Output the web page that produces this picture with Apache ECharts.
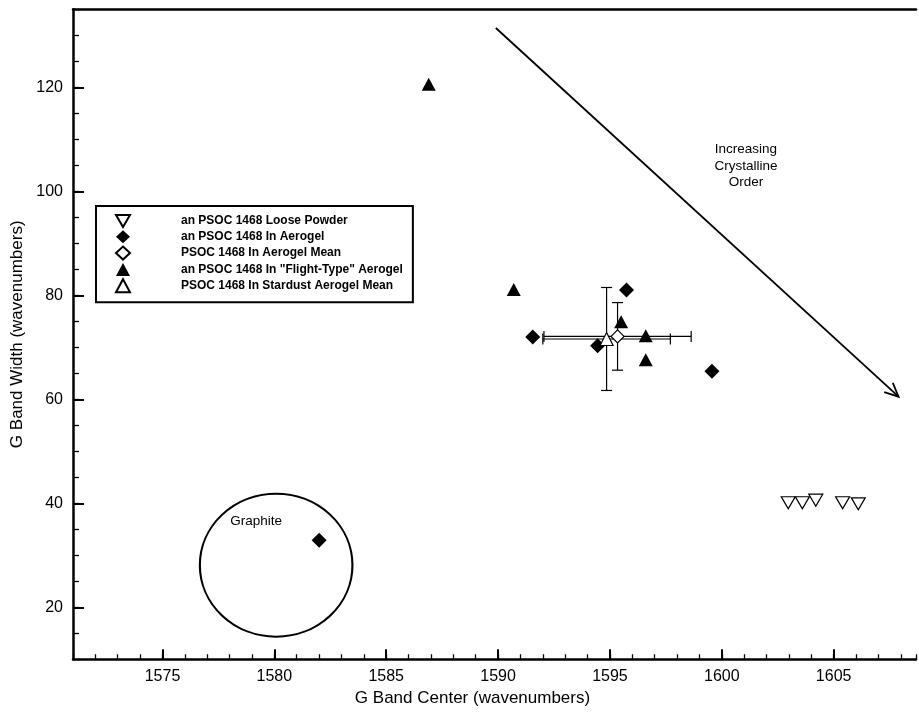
<!DOCTYPE html>
<html><head><meta charset="utf-8">
<script src="https://cdn.jsdelivr.net/npm/echarts@6/dist/echarts.min.js"></script>
<style>html,body{margin:0;padding:0;background:#fff}#c{width:919px;height:713px}</style>
</head><body><div id="c"></div>
<script>
// ---- data ----
const seriesNames = [
  'an PSOC 1468 Loose Powder',
  'an PSOC 1468 In Aerogel',
  'PSOC 1468 In Aerogel Mean',
  'an PSOC 1468 In "Flight-Type" Aerogel',
  'PSOC 1468 In Stardust Aerogel Mean'
];
const loosePowder = [[1602.97,40.1],[1603.6,40.1],[1604.2,40.6],[1605.4,40.1],[1606.1,39.9]];
const inAerogel = [[1582.0,32.9],[1591.55,72.0],[1594.45,70.3],[1595.74,81.0],[1599.56,65.4]];
const aerogelMean = [[1595.34,72.1]];
const aerogelMeanErr = [[3.29,6.5]];
const flightType = [[1586.9,120.6],[1590.7,81.1],[1595.5,74.9],[1596.6,72.2],[1596.6,67.6]];
const stardustMean = [[1594.85,71.6]];
const stardustMeanErr = [[2.85,9.9]];
const xTickLabels = [1575,1580,1585,1590,1595,1600,1605];
const yTickLabels = [20,40,60,80,100,120];
const graphiteEllipse = [[1580.08,28.1,3.41,13.75]];
const crystalArrow = [[1589.9,131.4,1607.9,60.5]];
const annotationTexts = ['Graphite','Increasing\nCrystalline\nOrder'];
const annotationPos = [[1579.19,36.5],[1601.08,104.9]];
const xTitle = 'G Band Center (wavenumbers)';
const yTitle = 'G Band Width (wavenumbers)';

// ---- chart ----
const FONT = '"Liberation Sans", Arial, Helvetica, sans-serif';
const X_MIN = 1571, X_MAX = 1608.68, Y_MIN = 10, Y_MAX = 135;
const chart = echarts.init(document.getElementById('c'), null, {renderer:'canvas'});

const errData = stardustMean.map((p,i)=>[p[0],p[1],stardustMeanErr[i][0],stardustMeanErr[i][1]])
  .concat(aerogelMean.map((p,i)=>[p[0],p[1],aerogelMeanErr[i][0],aerogelMeanErr[i][1]]));

const axisLineStyle = {color:'#000', width:2.5};
const option = {
  animation:false,
  backgroundColor:'#fff',
  grid:{left:73, top:9.3, right:0, bottom:53.7, containLabel:false},
  xAxis:[
    {type:'value', position:'bottom', min:X_MIN, max:X_MAX, interval:1,
     axisLine:{show:true, onZero:false, lineStyle:axisLineStyle},
     axisTick:{show:true, inside:true, length:5, lineStyle:{color:'#000', width:1.3}},
     axisLabel:{show:true, interval:0, margin:9, fontFamily:FONT, fontSize:16, color:'#000',
       formatter:v=> xTickLabels.indexOf(Math.round(v*1000)/1000)>=0 ? String(v) : ''},
     splitLine:{show:false},
     name:xTitle, nameLocation:'middle', nameGap:31,
     nameTextStyle:{fontFamily:FONT, fontSize:17, color:'#000', padding:[0,44,0,0]}},
    {type:'value', position:'bottom', min:X_MIN, max:X_MAX,
     axisLine:{show:false, onZero:false},
     axisTick:{show:true, inside:true, length:10, customValues:xTickLabels, lineStyle:{color:'#000', width:2}},
     axisLabel:{show:false}, splitLine:{show:false}},
    {type:'value', position:'top', min:X_MIN, max:X_MAX,
     axisLine:{show:true, onZero:false, lineStyle:axisLineStyle},
     axisTick:{show:false}, axisLabel:{show:false}, splitLine:{show:false}}
  ],
  yAxis:[
    {type:'value', position:'left', min:Y_MIN, max:Y_MAX, interval:5,
     axisLine:{show:true, onZero:false, lineStyle:axisLineStyle},
     axisTick:{show:true, inside:true, length:6, lineStyle:{color:'#000', width:1.3}},
     axisLabel:{show:true, interval:0, margin:10, fontFamily:FONT, fontSize:16, color:'#000',
       formatter:v=> yTickLabels.indexOf(v)>=0 ? String(v) : ''},
     splitLine:{show:false},
     name:yTitle, nameLocation:'middle', nameGap:45,
     nameTextStyle:{fontFamily:FONT, fontSize:17, color:'#000'}},
    {type:'value', position:'left', min:Y_MIN, max:Y_MAX,
     axisLine:{show:false, onZero:false},
     axisTick:{show:true, inside:true, length:11, customValues:yTickLabels, lineStyle:{color:'#000', width:2}},
     axisLabel:{show:false}, splitLine:{show:false}}
  ],
  legend:{
    data:seriesNames, orient:'vertical', left:96, top:206,
    padding:[8,10,9,19], itemGap:2.3, itemWidth:14, itemHeight:13,
    borderColor:'#000', borderWidth:2, backgroundColor:'#fff',
    selectedMode:false,
    textStyle:{fontFamily:FONT, fontWeight:'bold', fontSize:12, color:'#000', padding:[0,0,0,46]}
  },
  series:[
    { // error bars
      type:'custom', name:'err', xAxisIndex:0, yAxisIndex:0, z:2, silent:true,
      data:errData, encode:{x:0,y:1},
      renderItem:(params, api)=>{
        const x=api.value(0), y=api.value(1), ex=api.value(2), ey=api.value(3);
        const l=api.coord([x-ex,y]), r=api.coord([x+ex,y]);
        const t=api.coord([x,y+ey]), b=api.coord([x,y-ey]);
        const cap=5.5, st={stroke:'#000', lineWidth:1.2};
        const L=(x1,y1,x2,y2)=>({type:'line', shape:{x1,y1,x2,y2}, style:st});
        return {type:'group', children:[
          L(l[0],l[1],r[0],r[1]), L(l[0],l[1]-cap,l[0],l[1]+cap), L(r[0],r[1]-cap,r[0],r[1]+cap),
          L(t[0],t[1],b[0],b[1]), L(t[0]-cap,t[1],t[0]+cap,t[1]), L(b[0]-cap,b[1],b[0]+cap,b[1])
        ]};
      }
    },
    { // graphite ellipse
      type:'custom', name:'ellipse', z:2, silent:true,
      data:graphiteEllipse, encode:{x:0,y:1},
      renderItem:(params, api)=>{
        const cx=api.value(0), cy=api.value(1), rx=api.value(2), ry=api.value(3);
        const c=api.coord([cx,cy]), e=api.coord([cx+rx,cy]), t=api.coord([cx,cy+ry]);
        const prx=Math.abs(e[0]-c[0]), pry=Math.abs(c[1]-t[1]);
        return {type:'circle', x:c[0], y:c[1], scaleX:prx/pry, scaleY:1,
          shape:{cx:0, cy:0, r:pry}, style:{fill:'none', stroke:'#000', lineWidth:2, strokeNoScale:true}};
      }
    },
    { // arrow
      type:'custom', name:'arrow', z:2, silent:true,
      data:crystalArrow, encode:{x:[0,2], y:[1,3]},
      renderItem:(params, api)=>{
        const p1=api.coord([api.value(0),api.value(1)]), p2=api.coord([api.value(2),api.value(3)]);
        const ang=Math.atan2(p1[1]-p2[1], p1[0]-p2[0]);
        const len=15, da=25*Math.PI/180;
        const b1=[p2[0]+len*Math.cos(ang+da), p2[1]+len*Math.sin(ang+da)];
        const b2=[p2[0]+len*Math.cos(ang-da), p2[1]+len*Math.sin(ang-da)];
        const st={stroke:'#000', lineWidth:1.8, fill:'none'};
        return {type:'group', children:[
          {type:'line', shape:{x1:p1[0],y1:p1[1],x2:p2[0],y2:p2[1]}, style:st},
          {type:'polyline', shape:{points:[b1,p2,b2]}, style:st}
        ]};
      }
    },
    { // annotation texts
      type:'custom', name:'notes', z:3, silent:true,
      data:annotationPos.map((p,i)=>[p[0],p[1],i]), encode:{x:0,y:1},
      renderItem:(params, api)=>{
        const c=api.coord([api.value(0),api.value(1)]);
        return {type:'text', x:c[0], y:c[1], style:{text:annotationTexts[api.value(2)],
          align:'center', verticalAlign:'middle', font:'13.5px '+FONT, fill:'#000', lineHeight:16.5}};
      }
    },
    {type:'scatter', name:seriesNames[0], data:loosePowder, z:5,
     symbol:'path://M0,0 L14,0 L7,12 Z', symbolSize:[14,12],
     itemStyle:{color:'#fff', borderColor:'#000', borderWidth:1.2, opacity:1}},
    {type:'scatter', name:seriesNames[1], data:inAerogel, z:5,
     symbol:'diamond', symbolSize:[15,15], itemStyle:{color:'#000', opacity:1}},
    {type:'scatter', name:seriesNames[2], data:aerogelMean, z:6,
     symbol:'diamond', symbolSize:[13,13],
     itemStyle:{color:'#fff', borderColor:'#000', borderWidth:1.2, opacity:1}},
    {type:'scatter', name:seriesNames[3], data:flightType, z:5,
     symbol:'triangle', symbolSize:[14,13], itemStyle:{color:'#000', opacity:1}},
    {type:'scatter', name:seriesNames[4], data:stardustMean, z:6,
     symbol:'triangle', symbolSize:[13,13],
     itemStyle:{color:'#fff', borderColor:'#000', borderWidth:1.2, opacity:1}}
  ]
};
chart.setOption(option);
</script></body></html>
